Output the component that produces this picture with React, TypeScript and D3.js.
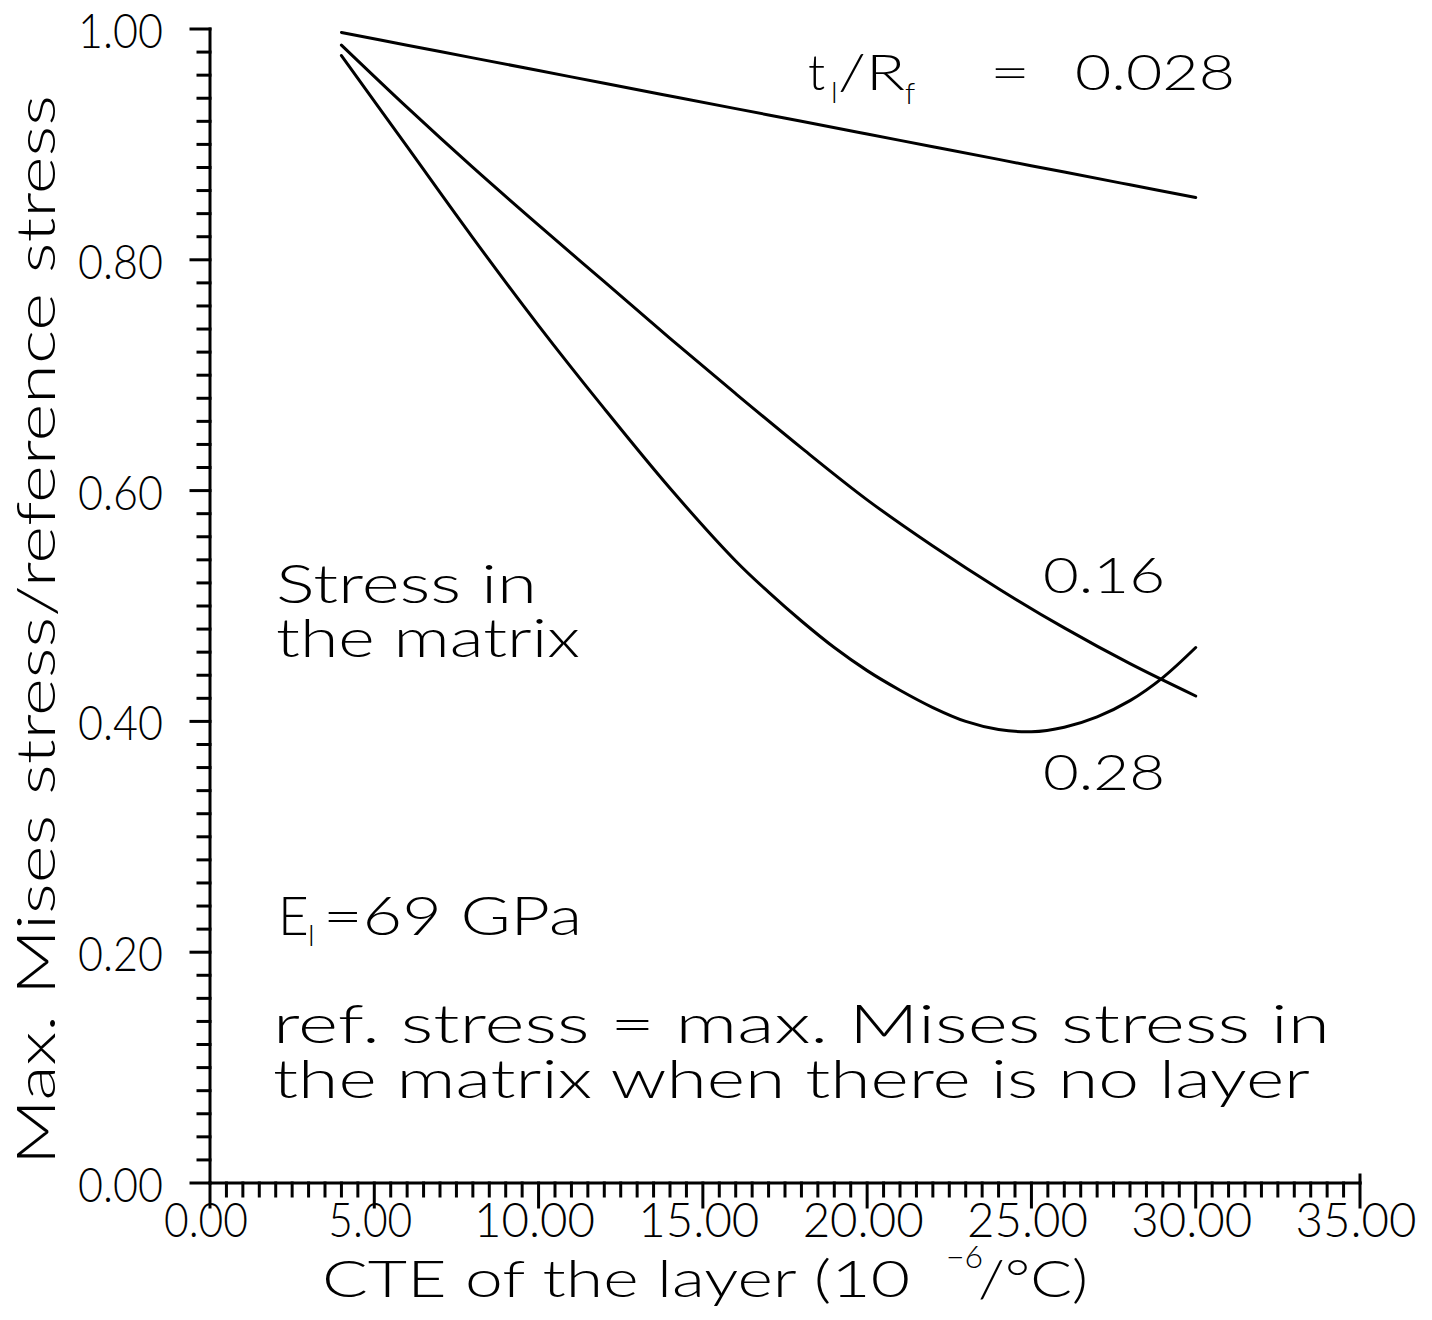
import React from "react";
import * as d3 from "d3";

// CTE of the layer (10^-6 /°C), sampled every 2 units
const CTE = [4, 6, 8, 10, 12, 14, 16, 18, 20, 22, 24, 26, 28, 30];
// finer sampling used for the t_l/R_f = 0.28 curve around its minimum
const CTE_FINE = [4, 6, 8, 10, 12, 14, 16, 17, 18, 19, 20, 21, 22, 23, 24, 25, 26, 27, 28, 29, 30];

// Max. Mises stress / reference stress for each t_l/R_f ratio
const RATIO_0028 = [0.997, 0.986, 0.975, 0.964, 0.953, 0.942, 0.931, 0.92, 0.909, 0.898, 0.887, 0.876, 0.865, 0.854];
const RATIO_016 = [0.986, 0.932, 0.88, 0.83, 0.781, 0.732, 0.684, 0.637, 0.592, 0.552, 0.515, 0.481, 0.45, 0.422];
const RATIO_028 = [
  0.977, 0.898, 0.819, 0.743, 0.671, 0.602, 0.539, 0.512, 0.487, 0.464, 0.444, 0.427, 0.412, 0.4, 0.393, 0.391,
  0.395, 0.404, 0.418, 0.438, 0.464,
];

const X_TICKS = [0, 5, 10, 15, 20, 25, 30, 35];
const Y_TICKS = [0, 0.2, 0.4, 0.6, 0.8, 1.0];

const FONT = "Lato, 'Liberation Sans', 'DejaVu Sans', sans-serif";

export default function App() {
  const W = 1432;
  const H = 1320;
  const x = d3.scaleLinear().domain([0, 35]).range([210, 1360]);
  const y = d3.scaleLinear().domain([0, 1]).range([1183, 29]);
  const fmt = d3.format(".2f");

  const lineFor = (xs: number[]) =>
    d3
      .line<number>()
      .x((_, i) => x(xs[i]))
      .y((d) => y(d))
      .curve(d3.curveCatmullRom.alpha(0.5));

  const series: [number[], number[]][] = [
    [CTE, RATIO_0028],
    [CTE, RATIO_016],
    [CTE_FINE, RATIO_028],
  ];

  const yMinor = d3.range(0, 1.0001, 0.02);
  const xMinor = d3.range(0, 35.0001, 0.5);

  const txt = {
    fontFamily: FONT,
    fontWeight: 300,
    fill: "#000",
  } as React.CSSProperties;

  return (
    <svg
      width={W}
      height={H}
      viewBox={`0 0 ${W} ${H}`}
      style={{ position: "absolute", left: 0, top: 0, background: "#fff" }}
    >
      <rect width={W} height={H} fill="#fff" />

      {/* axes */}
      <g stroke="#000" strokeWidth={3} fill="none" strokeLinecap="square">
        <line x1={x(0)} x2={x(0)} y1={y(0)} y2={y(1)} />
        <line x1={x(0)} x2={x(35)} y1={y(0)} y2={y(0)} />
        <line x1={x(35)} x2={x(35)} y1={y(0)} y2={y(0) - 8} />
        {yMinor.map((v, i) => {
          const major = i % 10 === 0;
          return (
            <line key={"ym" + i} x1={x(0) - (major ? 19 : 12)} x2={x(0)} y1={y(v)} y2={y(v)} />
          );
        })}
        {xMinor.map((v, i) => {
          const major = i % 10 === 0;
          return (
            <line key={"xm" + i} x1={x(v)} x2={x(v)} y1={y(0)} y2={y(0) + (major ? 24 : 13)} />
          );
        })}
      </g>

      {/* tick labels */}
      {Y_TICKS.map((v) => (
        <text
          key={"yl" + v}
          x={163}
          y={y(v) + 19}
          textAnchor="end"
          fontSize={47}
          textLength={85}
          lengthAdjust="spacingAndGlyphs"
          style={txt}
        >
          {fmt(v)}
        </text>
      ))}
      {X_TICKS.map((v) => {
        const s = fmt(v);
        const len = s.length === 4 ? 84 : 121;
        return (
          <text
            key={"xl" + v}
            x={x(v) - 4 - len / 2}
            y={1237}
            fontSize={47}
            textLength={len}
            lengthAdjust="spacingAndGlyphs"
            style={txt}
          >
            {s}
          </text>
        );
      })}

      {/* axis titles */}
      <text x={322} y={1297} fontSize={52} textLength={588} lengthAdjust="spacingAndGlyphs" style={txt}>
        CTE of the layer (10
      </text>
      <text x={946} y={1268} fontSize={32} style={txt}>
        −6
      </text>
      <text x={978} y={1297} fontSize={52} textLength={110} lengthAdjust="spacingAndGlyphs" style={txt}>
        /°C)
      </text>
      <text
        transform="translate(55,1165) rotate(-90)"
        fontSize={54}
        textLength={1070}
        lengthAdjust="spacingAndGlyphs"
        style={txt}
      >
        Max. Mises stress/reference stress
      </text>

      {/* curves */}
      <g fill="none" stroke="#000" strokeWidth={3} strokeLinejoin="round" strokeLinecap="round">
        {series.map(([xs, ys], i) => (
          <path key={"c" + i} d={lineFor(xs)(ys) ?? ""} />
        ))}
      </g>

      {/* curve labels */}
      <text x={808} y={90} fontSize={50} style={txt}>t</text>
      <text x={831} y={103} fontSize={30} style={txt}>l</text>
      <text x={838} y={90} fontSize={50} textLength={67} lengthAdjust="spacingAndGlyphs" style={txt}>/R</text>
      <text x={905} y={104} fontSize={30} style={txt}>f</text>
      <text x={990} y={90} fontSize={50} textLength={40} lengthAdjust="spacingAndGlyphs" style={txt}>
        =
      </text>
      <text x={1075} y={90} fontSize={50} textLength={160} lengthAdjust="spacingAndGlyphs" style={txt}>
        0.028
      </text>
      <text x={1043} y={593} fontSize={50} textLength={122} lengthAdjust="spacingAndGlyphs" style={txt}>
        0.16
      </text>
      <text x={1043} y={790} fontSize={50} textLength={122} lengthAdjust="spacingAndGlyphs" style={txt}>
        0.28
      </text>

      {/* annotations */}
      <text x={276} y={603} fontSize={53} textLength={261} lengthAdjust="spacingAndGlyphs" style={txt}>
        Stress in
      </text>
      <text x={276} y={657} fontSize={53} textLength={304} lengthAdjust="spacingAndGlyphs" style={txt}>
        the matrix
      </text>
      <text x={278} y={935} fontSize={53} style={txt}>E</text>
      <text x={308} y={946} fontSize={30} style={txt}>l</text>
      <text x={323} y={935} fontSize={53} textLength={259} lengthAdjust="spacingAndGlyphs" style={txt}>
        =69  GPa
      </text>
      <text x={273} y={1043} fontSize={53} textLength={1057} lengthAdjust="spacingAndGlyphs" style={txt}>
        ref. stress = max. Mises stress in
      </text>
      <text x={273} y={1098} fontSize={53} textLength={1037} lengthAdjust="spacingAndGlyphs" style={txt}>
        the matrix when there is no layer
      </text>
    </svg>
  );
}
